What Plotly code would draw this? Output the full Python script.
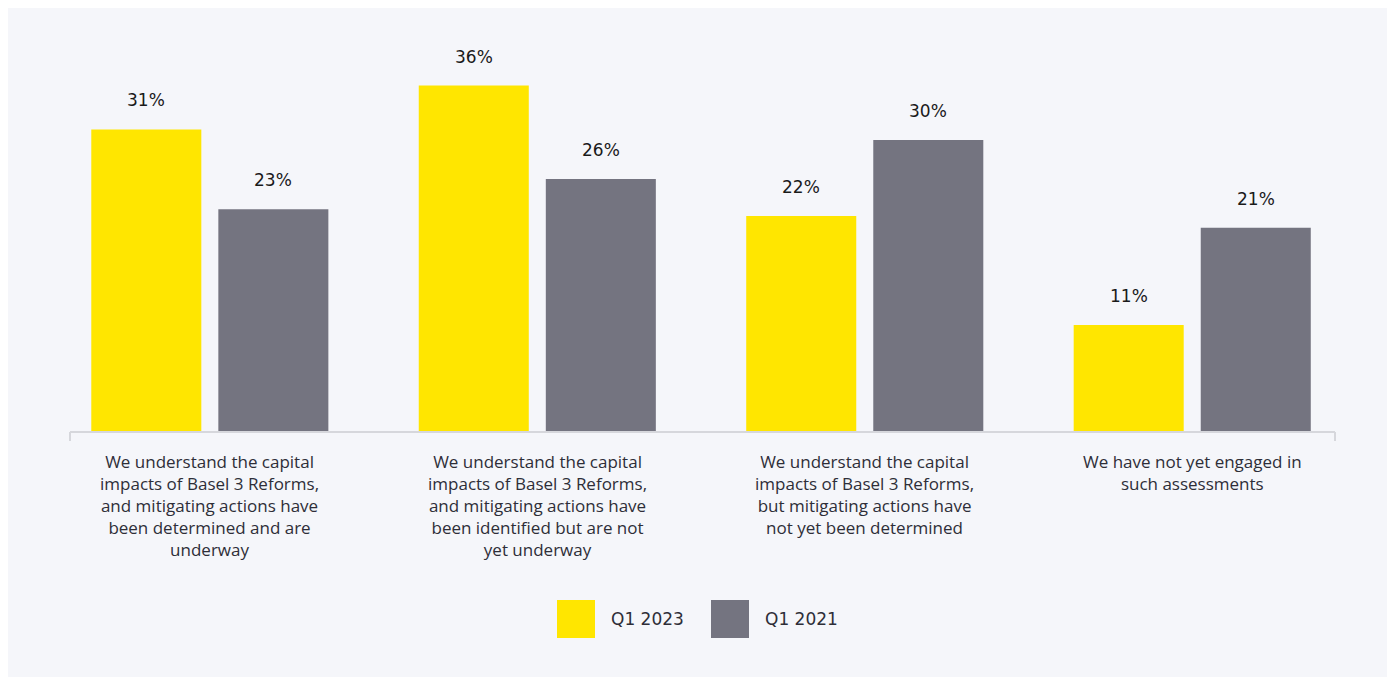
import plotly.graph_objects as go

categories = [
    "We understand the capital<br>impacts of Basel 3 Reforms,<br>and mitigating actions have<br>been determined and are<br>underway",
    "We understand the capital<br>impacts of Basel 3 Reforms,<br>and mitigating actions have<br>been identified but are not<br>yet underway",
    "We understand the capital<br>impacts of Basel 3 Reforms,<br>but mitigating actions have<br>not yet been determined",
    "We have not yet engaged in<br>such assessments",
]
q1_2023 = [31.1, 35.6, 22.2, 11.0]
q1_2021 = [22.9, 26.0, 30.0, 21.0]
series_names = ["Q1 2023", "Q1 2021"]
series_colors = ["#ffe600", "#747480"]

W, H = 1395, 677
L, R, T, B = 62, 68, 40, 253
PW, PH = W - L - R, H - T - B
LABEL_FONT = "Open Sans"
NUM_FONT = "DejaVu Sans"
BG = "#f5f6fa"

# helpers: figure pixel -> paper coords
def px_x(p):
    return (p - L) / PW

def px_y(p):
    return (H - B - p) / PH

x_idx = list(range(len(categories)))
x_range = [-0.427, 3.436]
bargap = 0.224
bargroupgap = 0.134
slot = (1 - bargap) / 2

fig = go.Figure()
for i, (name, vals, col) in enumerate(zip(series_names, [q1_2023, q1_2021], series_colors)):
    fig.add_trace(go.Bar(x=x_idx, y=vals, name=name, marker_color=col,
                         marker_line_width=0, showlegend=False))
    off = (i - 0.5) * slot
    for xi, v in zip(x_idx, vals):
        fig.add_annotation(x=xi + off, y=v, text=f"{round(v)}%", showarrow=False,
                           yanchor="bottom", yshift=17,
                           font=dict(family=NUM_FONT, size=17, color="#1a1a1a"))

# baseline with end ticks
fig.add_shape(type="line", xref="paper", yref="paper", x0=0, x1=1, y0=0, y1=0,
              line=dict(color="#d6d7dc", width=2))
for xe in [0, 1]:
    fig.add_shape(type="line", xref="paper", yref="paper", x0=xe, x1=xe,
                  y0=0, y1=px_y(H - B + 9), line=dict(color="#d6d7dc", width=2))

# category labels
for xi, c in zip(x_idx, categories):
    fig.add_annotation(x=xi, y=0, yref="y", text=c, showarrow=False,
                       yanchor="top", yshift=-16, align="center",
                       font=dict(family=LABEL_FONT, size=17, color="#2e2e38"))

# legend
leg = [(549, 601), (703, 755)]
for (sx, tx), name, col in zip(leg, series_names, series_colors):
    fig.add_shape(type="rect", xref="paper", yref="paper",
                  x0=px_x(sx), x1=px_x(sx + 38), y0=px_y(630), y1=px_y(592),
                  fillcolor=col, line_width=0)
    fig.add_annotation(xref="paper", yref="paper", x=px_x(tx), y=px_y(611),
                       text=name, showarrow=False, xanchor="left", yanchor="middle",
                       font=dict(family=NUM_FONT, size=17, color="#2e2e38"))

fig.update_layout(
    width=W, height=H,
    margin=dict(l=L, r=R, t=T, b=B),
    paper_bgcolor=BG, plot_bgcolor=BG,
    barmode="group", bargap=bargap, bargroupgap=bargroupgap,
    xaxis=dict(range=x_range, showticklabels=False, showgrid=False,
               zeroline=False, showline=False, fixedrange=True),
    yaxis=dict(range=[0, PH / 9.73], visible=False, showgrid=False,
               zeroline=False, fixedrange=True),
)

fig.write_html("out.html")
